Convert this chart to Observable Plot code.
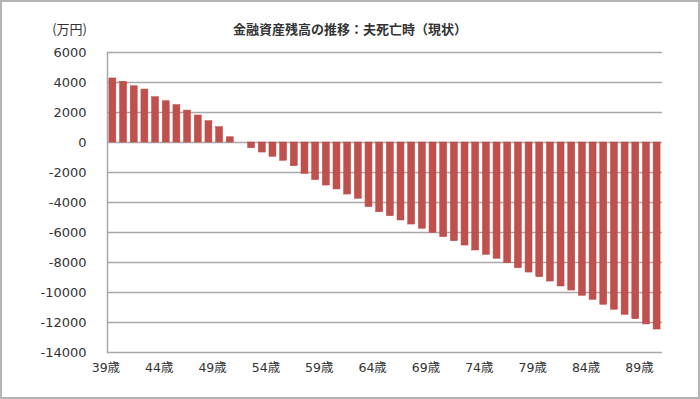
<!DOCTYPE html>
<html>
<head>
<meta charset="utf-8">
<script src="https://cdn.jsdelivr.net/npm/d3@7"></script>
<script src="https://cdn.jsdelivr.net/npm/@observablehq/plot@0.6"></script>
<style>
  html, body { margin: 0; padding: 0; background: #fff; }
  #wrap { position: relative; width: 700px; height: 399px; overflow: hidden; }
  #border { position: absolute; left: 0; top: 0; width: 700px; height: 399px; box-sizing: border-box; border: 2px solid #b4b4b4; pointer-events: none; }
  #title { position: absolute; left: 0; width: 700px; top: 19px; text-align: center; font: bold 13px "Noto Sans CJK JP", sans-serif; color: #333; }
  #unit { position: absolute; right: 613px; top: 19px; font: 13px "Noto Sans CJK JP", sans-serif; color: #333; }
  #chart { position: absolute; left: 0; top: 0; }
</style>
</head>
<body>
<div id="wrap">
  <div id="chart"></div>
  <div id="title">金融資産残高の推移：夫死亡時（現状）</div>
  <div id="unit">(万円)</div>
  <div id="border"></div>
</div>
<script>
const ages = d3.range(39, 91);
const balances = [
  4270, 4050, 3750, 3530, 3020, 2750, 2490, 2130, 1800, 1420, 1020, 350,
  0, -380, -670, -950, -1220, -1580, -2090, -2510, -2870, -3130, -3470, -3750,
  -4310, -4650, -4910, -5200, -5470, -5750, -6020, -6310, -6580, -6870, -7200, -7490,
  -7750, -8050, -8380, -8670, -8980, -9270, -9600, -9870, -10220, -10490, -10820, -11150,
  -11490, -11780, -12130, -12470
];
const yTicks = d3.range(-14000, 6001, 2000);
const xTickAges = [39, 44, 49, 54, 59, 64, 69, 74, 79, 84, 89];

const data = ages.map((a, i) => ({age: a, value: balances[i]}));

const chart = Plot.plot({
  width: 700,
  height: 399,
  marginTop: 52,
  marginBottom: 47,
  marginLeft: 107,
  marginRight: 38,
  style: {fontFamily: "'DejaVu Sans', 'Noto Sans CJK JP', sans-serif", fontSize: "13px", color: "#333", background: "transparent"},
  x: {type: "band", domain: ages, paddingInner: 0.35, paddingOuter: 0.18, label: null},
  y: {domain: [-14000, 6000], label: null},
  marks: [
    Plot.ruleY(yTicks, {stroke: "#a8a8a8", strokeWidth: 1.5}),
    Plot.frame({anchor: "left", stroke: "#a8a8a8", strokeWidth: 1.5}),
    Plot.barY(data, {x: "age", y: "value", fill: "#c0504d", stroke: "#b84643", strokeWidth: 0.5}),
    Plot.axisY({ticks: yTicks, tickSize: 0, tickPadding: 21, fontSize: 13, fill: "#333", tickFormat: d => String(d)}),
    Plot.axisX({ticks: xTickAges, tickSize: 0, tickPadding: 11, fontSize: 12.5, fill: "#333", dx: -7, tickFormat: d => d + "歳"})
  ]
});
document.getElementById("chart").appendChild(chart);
</script>
</body>
</html>
